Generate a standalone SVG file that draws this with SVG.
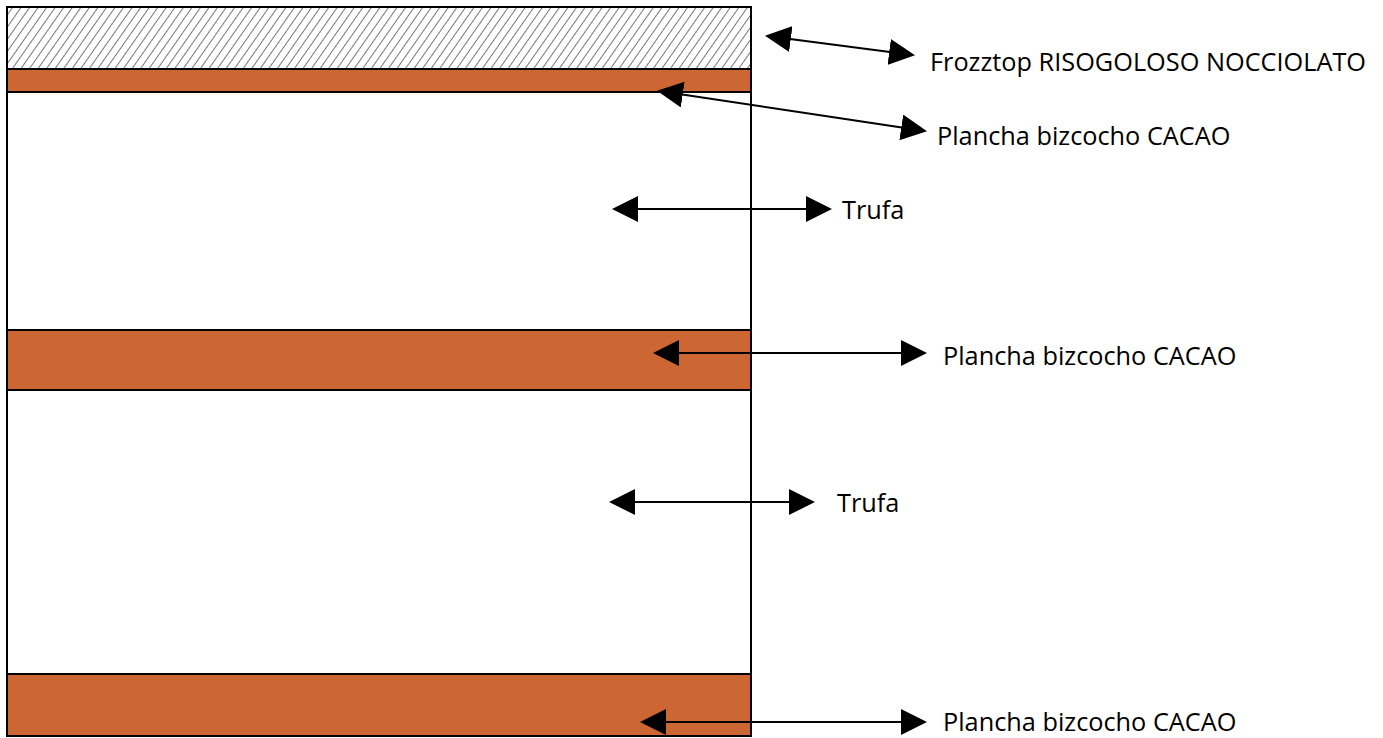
<svg xmlns="http://www.w3.org/2000/svg" width="1383" height="738" viewBox="0 0 1383 738">
<style>
.band{fill:#CC6633;stroke:#000;stroke-width:2}
.plain{fill:#fff;stroke:#000;stroke-width:2}
.lbl{font-family:"Open Sans","Liberation Sans",sans-serif;font-size:25.3px;fill:#000}
.conn line{stroke:#000;stroke-width:2;marker-start:url(#ah);marker-end:url(#ah)}
</style>
<defs>
<pattern id="hatch" patternUnits="userSpaceOnUse" width="7" height="7" patternTransform="rotate(35)">
<rect width="7" height="7" fill="#fff"/>
<line x1="0" y1="0" x2="0" y2="7" stroke="#555" stroke-width="1.6"/>
</pattern>
<marker id="ah" viewBox="0 0 26 26" refX="24" refY="13" markerWidth="26" markerHeight="26" markerUnits="userSpaceOnUse" orient="auto-start-reverse">
<path d="M0,0 L26,13 L0,26 Z" fill="#000"/>
</marker>
</defs>
<g id="layer-frozztop"><rect x="7" y="7" width="744" height="62" fill="url(#hatch)" stroke="#000" stroke-width="2"/></g>
<g id="layer-plancha1"><rect class="band" x="7" y="69" width="744" height="23"/></g>
<g id="layer-trufa1"><rect class="plain" x="7" y="92" width="744" height="238"/></g>
<g id="layer-plancha2"><rect class="band" x="7" y="330" width="744" height="60"/></g>
<g id="layer-trufa2"><rect class="plain" x="7" y="390" width="744" height="284"/></g>
<g id="layer-plancha3"><rect class="band" x="7" y="674" width="744" height="62"/></g>
<g id="connectors" class="conn">
<line x1="767" y1="36" x2="913" y2="55"/>
<line x1="659" y1="91" x2="925" y2="131"/>
<line x1="614" y1="209" x2="830" y2="209"/>
<line x1="655" y1="353" x2="925" y2="353"/>
<line x1="611" y1="502" x2="813" y2="502"/>
<line x1="642" y1="722" x2="925" y2="722"/>
</g>
<g id="labels">
<text class="lbl" x="930" y="71">Frozztop RISOGOLOSO NOCCIOLATO</text>
<text class="lbl" x="937" y="145">Plancha bizcocho CACAO</text>
<text class="lbl" x="842" y="219">Trufa</text>
<text class="lbl" x="943" y="365">Plancha bizcocho CACAO</text>
<text class="lbl" x="837" y="512">Trufa</text>
<text class="lbl" x="943" y="731">Plancha bizcocho CACAO</text>
</g>
</svg>
